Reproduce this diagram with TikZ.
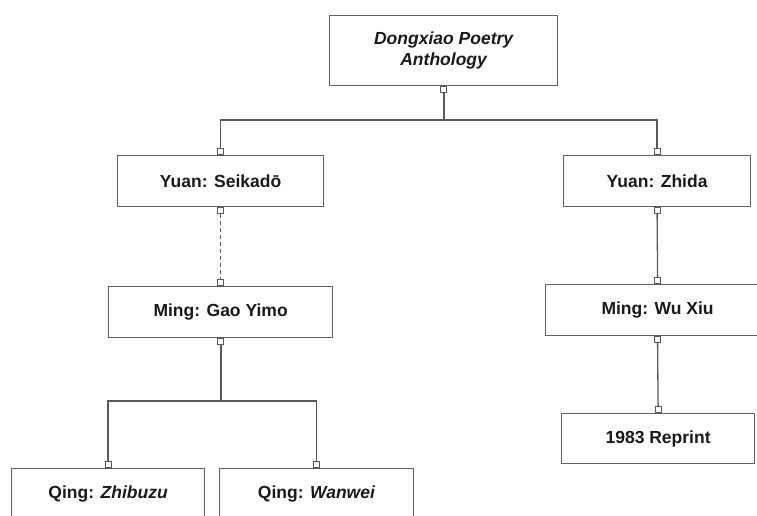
\documentclass[tikz,border=0pt]{standalone}
\usepackage{fontspec}
\setmainfont{Liberation Sans}
\definecolor{linegray}{HTML}{5A5A5A}
\definecolor{boxgray}{HTML}{606060}
\definecolor{textblack}{HTML}{1A1A1A}
\begin{document}
\begin{tikzpicture}[x=1pt,y=-1pt,
  box/.style={draw=boxgray, line width=1.2pt, fill=white, inner sep=0pt,
    anchor=north west, align=center, text=textblack,
    font=\bfseries\fontsize{17.5}{21}\selectfont},
  sq/.style={draw=linegray, fill=white, line width=1pt, minimum size=6pt, inner sep=0pt},
  conn/.style={draw=linegray, line width=1.3pt, line join=miter}]
\useasboundingbox (0,0) rectangle (757,515);
\clip (0,0) rectangle (757,515);
% boxes
\node[box, minimum width=228pt, minimum height=70pt] (root) at (329,15)
  {\itshape Dongxiao Poetry\\\itshape Anthology};
\node[box, minimum width=206pt, minimum height=51pt] (sei) at (117,155) {Yuan: Seikadō};
\node[box, minimum width=187pt, minimum height=51pt] (zhi) at (563,155) {Yuan: Zhida};
\node[box, minimum width=224pt, minimum height=51pt] (gao) at (108,286) {Ming: Gao Yimo};
\node[box, minimum width=224pt, minimum height=51pt] (wx) at (545,284) {Ming: Wu Xiu};
\node[box, minimum width=193pt, minimum height=50pt] (rp) at (561,413) {1983 Reprint};
\node[box, minimum width=193pt, minimum height=51pt] (zb) at (11,468) {Qing: \textit{Zhibuzu}};
\node[box, minimum width=194pt, minimum height=51pt] (ww) at (219,468) {Qing: \textit{Wanwei}};
% ports
\node[sq, anchor=north] (rootb) at (root.south) {};
\node[sq, anchor=south] (seit) at (sei.north) {};
\node[sq, anchor=north] (seib) at (sei.south) {};
\node[sq, anchor=south] (zhit) at (zhi.north) {};
\node[sq, anchor=north] (zhib) at (zhi.south) {};
\node[sq, anchor=south] (gaot) at (gao.north) {};
\node[sq, anchor=north] (gaob) at (gao.south) {};
\node[sq, anchor=south] (wxt) at (wx.north) {};
\node[sq, anchor=north] (wxb) at (wx.south) {};
\node[sq, anchor=south] (rpt) at (rp.north) {};
\node[sq, anchor=south] (zbt) at (zb.north) {};
\node[sq, anchor=south] (wwt) at (ww.north) {};
% connectors
\coordinate (j1) at (rootb.south |- 0,120);
\coordinate (j2) at (gaob.south |- 0,401);
\draw[conn] (seit.north) |- (j1) -| (zhit.north);
\draw[conn, line width=1.8pt] (rootb.south) -- (j1);
\draw[conn, dash pattern=on 4pt off 3pt] (seib.south) -- (gaot.north);
\draw[conn] (zbt.north) |- (j2) -| (wwt.north);
\draw[conn, line width=1.8pt] (gaob.south) -- (j2);
\draw[conn] (zhib.south) -- (wxt.north);
\draw[conn] (wxb.south) -- (rpt.north);
\end{tikzpicture}
\end{document}
